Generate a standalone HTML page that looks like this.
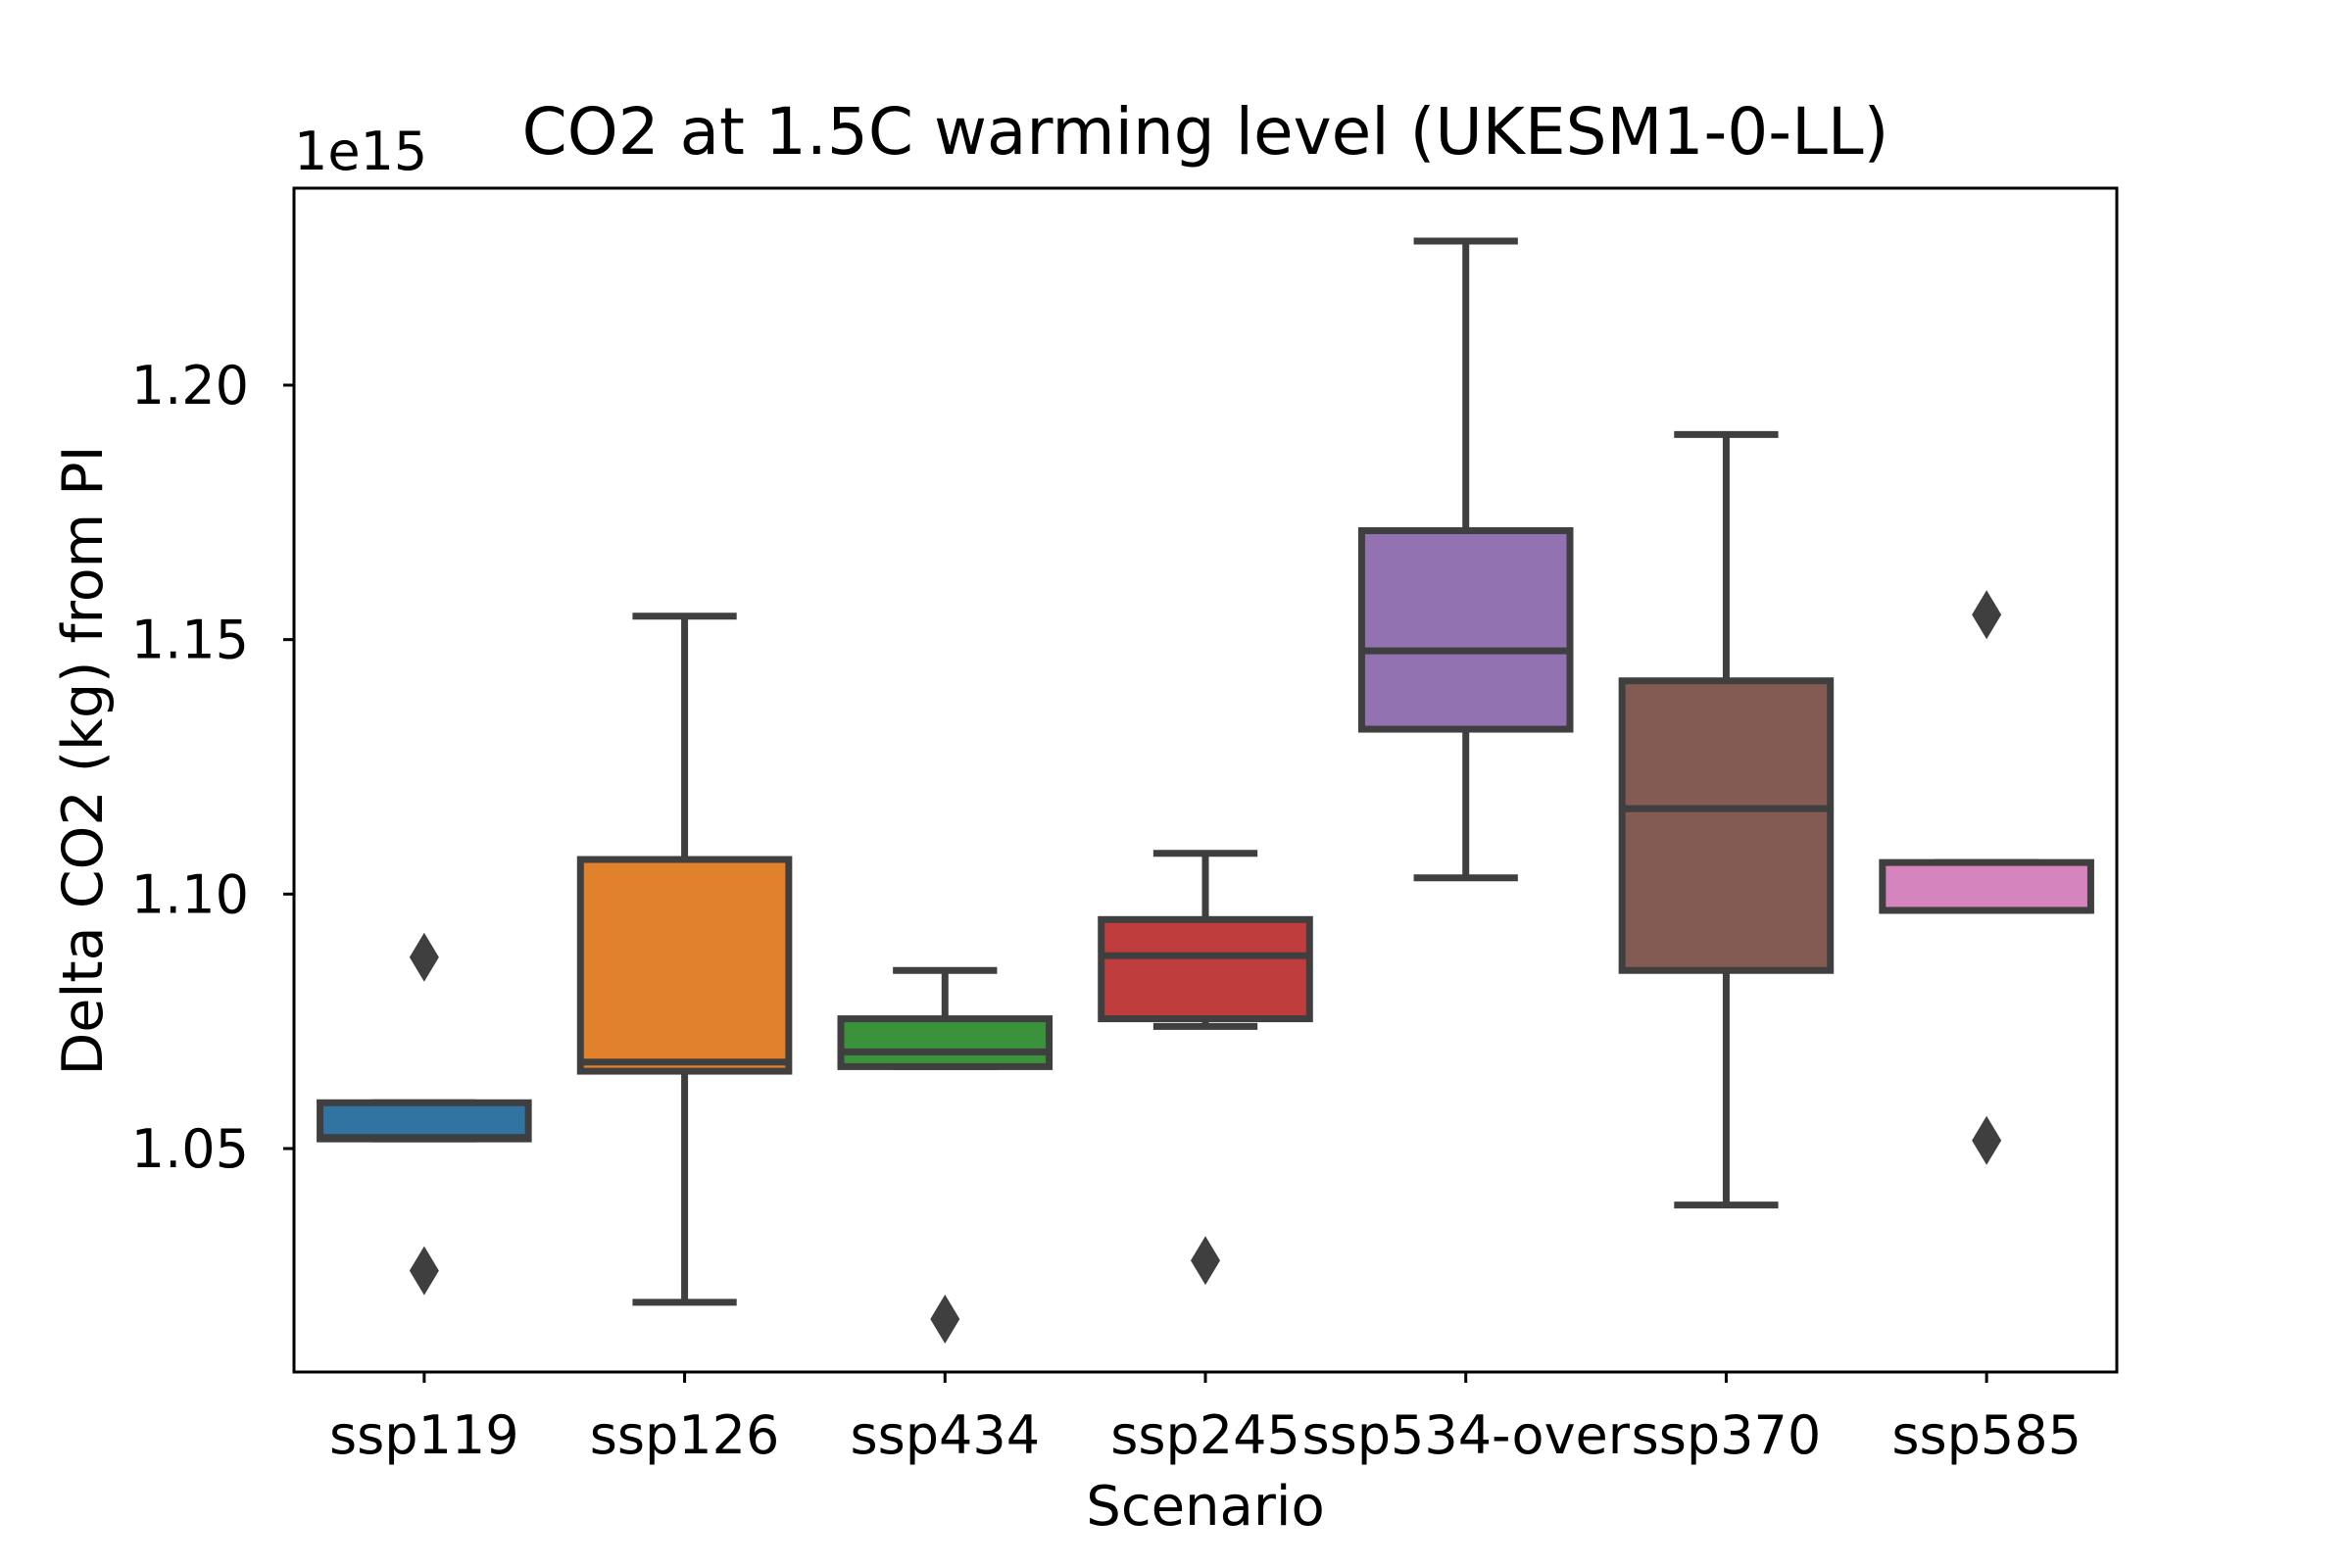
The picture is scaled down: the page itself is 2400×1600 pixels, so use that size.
<!DOCTYPE html>
<html><head><meta charset="utf-8"><style>body{margin:0;background:#fff}svg{display:block}text{font-family:"DejaVu Sans","Liberation Sans",sans-serif;fill:#000}</style></head>
<body>
<svg id="chart" width="2400" height="1600" viewBox="0 0 2400 1600" xmlns="http://www.w3.org/2000/svg">
<rect width="2400" height="1600" fill="#fff"/>
<g id="marks"></g>
<rect x="300" y="192" width="1860" height="1208" fill="none" stroke="#000" stroke-width="3"/>
<g id="axes"></g>
<text x="1230" y="157" font-size="66" text-anchor="middle">CO2 at 1.5C warming level (UKESM1-0-LL)</text>
<text x="300" y="173" font-size="54">1e15</text>
<text x="1230" y="1556" font-size="56" text-anchor="middle">Scenario</text>
<text x="0" y="0" font-size="57" text-anchor="middle" transform="translate(104,776) rotate(-90)">Delta CO2 (kg) from PI</text>
</svg>
<script>
const categories=["ssp119","ssp126","ssp434","ssp245","ssp534-over","ssp370","ssp585"];
const whiskerLow=[1.0519,1.0198,1.0661,1.0740,1.1032,1.0389,1.0968];
const q1=[1.0519,1.0652,1.0661,1.0755,1.1324,1.0850,1.0968];
const median=[1.0522,1.0670,1.0690,1.0879,1.1478,1.1168,1.0968];
const q3=[1.0590,1.1068,1.0755,1.0950,1.1714,1.1419,1.1062];
const whiskerHigh=[1.0590,1.1546,1.0850,1.1080,1.2283,1.1903,1.1062];
const fliers=[[1.0876,1.0260],[],[1.0165],[1.0280],[],[],[1.1549,1.0516]];
const colors=["#3274a1","#e1812c","#3a923a","#c03d3e","#9372b2","#845b53","#d684bd"];
const yTicks=[1.05,1.10,1.15,1.20];
const yTickLabels=["1.05","1.10","1.15","1.20"];

const NS="http://www.w3.org/2000/svg";
const L=300,R=2160,T=192,B=1400,Y0=1.0061,Y1=1.2387;
const y=v=>B-(v-Y0)/(Y1-Y0)*(B-T);
const step=(R-L)/categories.length;
const x=i=>L+step*(i+0.5);
const bw=step*0.8;
const marks=document.getElementById('marks'),axes=document.getElementById('axes');
function mk(tag,attrs,parent){const e=document.createElementNS(NS,tag);for(const k in attrs)e.setAttribute(k,attrs[k]);parent.appendChild(e);return e;}
const LC="#3f3f3f",LW=7;
categories.forEach((c,i)=>{
  const cx=x(i);
  const g=mk('g',{},marks);
  
  
  const w1=mk('line',{x1:cx,x2:cx,y1:y(q1[i]),y2:y(whiskerLow[i]),stroke:LC,'stroke-width':LW},g);
  
  
  const w2=mk('line',{x1:cx,x2:cx,y1:y(q3[i]),y2:y(whiskerHigh[i]),stroke:LC,'stroke-width':LW},g);
  
  
  const c1=mk('line',{x1:cx-bw/4,x2:cx+bw/4,y1:y(whiskerLow[i]),y2:y(whiskerLow[i]),stroke:LC,'stroke-width':LW},g);
  
  
  const c2=mk('line',{x1:cx-bw/4,x2:cx+bw/4,y1:y(whiskerHigh[i]),y2:y(whiskerHigh[i]),stroke:LC,'stroke-width':LW},g);
  
  
  const b=mk('rect',{x:cx-bw/2,y:y(q3[i]),width:bw,height:Math.max(0.5,y(q1[i])-y(q3[i])),fill:colors[i],stroke:LC,'stroke-width':LW},g);
  
  
  const m=mk('line',{x1:cx-bw/2,x2:cx+bw/2,y1:y(median[i]),y2:y(median[i]),stroke:LC,'stroke-width':LW},g);
  
  
  fliers[i].forEach(v=>{
    const py=y(v);
    const d=mk('polygon',{points:`${cx},${py-25} ${cx+15},${py} ${cx},${py+25} ${cx-15},${py}`,fill:LC},g);
    
    
  });
  const t=mk('line',{x1:cx,x2:cx,y1:B,y2:B+11,stroke:'#000','stroke-width':3},axes);
  
  
  const lb=mk('text',{x:cx,y:1483,'font-size':54,'text-anchor':'middle'},axes);
  lb.textContent=c;
  
  
});
yTicks.forEach((v,i)=>{
  const t=mk('line',{x1:L-11,x2:L,y1:y(v),y2:y(v),stroke:'#000','stroke-width':3},axes);
  
  
  const lb=mk('text',{x:L-46,y:y(v)+19,'font-size':54,'text-anchor':'end'},axes);
  lb.textContent=yTickLabels[i];
  
  
});
</script>
</body></html>
